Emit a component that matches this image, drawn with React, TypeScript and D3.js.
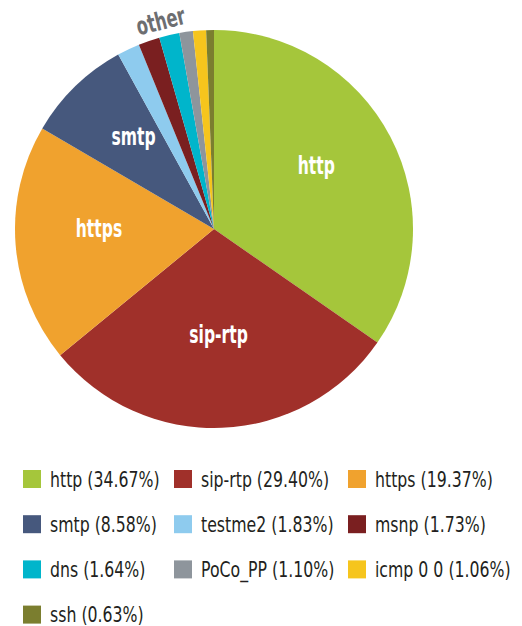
import * as d3 from "d3";
import { useEffect, useRef } from "react";

const categories = ["http", "sip-rtp", "https", "smtp", "testme2", "msnp", "dns", "PoCo_PP", "icmp 0 0", "ssh"];
const shares = [34.67, 29.4, 19.37, 8.58, 1.83, 1.73, 1.64, 1.1, 1.06, 0.63];
const colors = ["#a5c63b", "#a0302a", "#f0a22e", "#46587d", "#8ecbee", "#7a1f20", "#00b5cb", "#8e959c", "#f6c51d", "#7b7e2f"];
// only the big slices get a label inside
const insideLabels = ["http", "sip-rtp", "https", "smtp"];
const otherLabel = "other";

const width = 522;
const height = 626;
const cx = 214;
const cy = 229;
const radius = 199;
const font = "'DejaVu Sans', sans-serif";
// no condensed face available, so squeeze the glyphs horizontally
const labelSqueeze = 0.65;
const legendSqueeze = 0.75;

type Slice = { name: string; value: number; color: string };

const data: Slice[] = categories.map((name, i) => ({ name, value: shares[i], color: colors[i] }));

export default function App() {
  const ref = useRef<SVGSVGElement>(null);

  useEffect(() => {
    if (!ref.current) return;
    const svg = d3.select(ref.current);
    svg.selectAll("*").remove();

    const pie = d3.pie<Slice>().value((d) => d.value).sort(null);
    const arcs = pie(data);
    const arc = d3.arc<d3.PieArcDatum<Slice>>().innerRadius(0).outerRadius(radius);
    const labelArc = d3.arc<d3.PieArcDatum<Slice>>().innerRadius(radius * 0.58).outerRadius(radius * 0.58);

    const g = svg.append("g").attr("transform", `translate(${cx},${cy})`);

    g.selectAll("path")
      .data(arcs)
      .join("path")
      .attr("d", arc)
      .attr("fill", (d) => d.data.color);

    g.selectAll("text.inside")
      .data(arcs.filter((d) => insideLabels.includes(d.data.name)))
      .join("text")
      .attr("class", "inside")
      .attr("transform", (d) => `translate(${labelArc.centroid(d)}) scale(${labelSqueeze},1)`)
      .attr("text-anchor", "middle")
      .attr("dy", "-0.05em")
      .attr("fill", "#fff")
      .attr("font-family", font)
      .attr("font-weight", "bold")
      .attr("font-size", 24)
      .text((d) => d.data.name);

    // "other" label over the thin slices
    const small = arcs.filter((d) => !insideLabels.includes(d.data.name));
    const mid = (small[0].startAngle + small[small.length - 1].endAngle) / 2;
    const r = radius + 7;
    const ox = r * Math.sin(mid);
    const oy = -r * Math.cos(mid);
    g.append("text")
      .attr(
        "transform",
        `translate(${ox},${oy}) rotate(${(mid * 180) / Math.PI - 360}) scale(${labelSqueeze},1)`
      )
      .attr("text-anchor", "middle")
      .attr("fill", "#6d6e71")
      .attr("font-family", font)
      .attr("font-weight", "bold")
      .attr("font-size", 25)
      .text(otherLabel);

    // legend
    const colX = [23, 174, 348];
    const rowY = d3.scaleLinear().domain([0, 1]).range([479, 524.2]);
    const legend = svg
      .append("g")
      .selectAll("g")
      .data(data)
      .join("g")
      .attr("transform", (_, i) => `translate(${colX[i % 3]},${rowY(Math.floor(i / 3))})`);
    legend
      .append("rect")
      .attr("x", 0)
      .attr("y", -9)
      .attr("width", 18)
      .attr("height", 18)
      .attr("fill", (d) => d.color);
    legend
      .append("text")
      .attr("transform", `translate(27,0) scale(${legendSqueeze},1)`)
      .attr("dy", "0.36em")
      .attr("fill", "#231f20")
      .attr("font-family", font)
      .attr("font-size", 21)
      .text((d) => `${d.name} (${d.value.toFixed(2)}%)`);
  }, []);

  return (
    <svg
      ref={ref}
      width={width}
      height={height}
      viewBox={`0 0 ${width} ${height}`}
      style={{ position: "absolute", left: 0, top: 0, background: "#fff" }}
    />
  );
}
